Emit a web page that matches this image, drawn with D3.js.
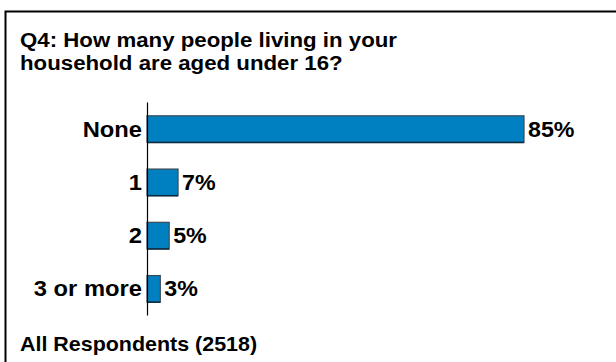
<!DOCTYPE html>
<html lang="en">
<head>
<meta charset="UTF-8" />
<title>Q4 household under 16</title>
<script src="https://d3js.org/d3.v7.min.js"></script>
<style>
  body { margin: 0; background: #fff; }
  text { font-family: Arial, "Liberation Sans", sans-serif; font-weight: bold; fill: #000; }
</style>
</head>
<body>
<div id="chart"></div>
<script>
// data
var categories = ["None", "1", "2", "3 or more"];
var values = [85, 7, 5, 3];
var valueLabels = ["85%", "7%", "5%", "3%"];
var titleLines = ["Q4: How many people living in your", "household are aged under 16?"];
var footer = "All Respondents (2518)";

var width = 616, height = 362;
var stretch = 1.08; // text in the picture looks a bit wide

var svg = d3.select("#chart").append("svg")
  .attr("width", width)
  .attr("height", height);

// frame (runs off the right and bottom edge)
svg.append("rect")
  .attr("x", 5.5).attr("y", 11.5)
  .attr("width", 700).attr("height", 400)
  .attr("fill", "none")
  .attr("stroke", "#000")
  .attr("stroke-width", 2);

// title
svg.selectAll(".title")
  .data(titleLines)
  .enter().append("text")
  .attr("class", "title")
  .attr("transform", function(d, i) { return "translate(20," + (46.5 + i * 23.5) + ") scale(1.06,1)"; })
  .style("font-size", "21px")
  .text(function(d) { return d; });

var x = d3.scaleLinear().domain([0, 85]).range([147, 524]);
var y = d3.scaleBand().domain(categories).range([102, 315])
  .paddingInner(0.5).paddingOuter(0.25);

var g = svg.append("g");

g.selectAll(".bar")
  .data(values)
  .enter().append("rect")
  .attr("class", "bar")
  .attr("x", x(0))
  .attr("y", function(d, i) { return y(categories[i]) + 0.5; })
  .attr("width", function(d) { return x(d) - x(0); })
  .attr("height", y.bandwidth())
  .attr("fill", "#0080c0")
  .attr("stroke", "#3c4a55")
  .attr("stroke-width", 1.2);

// darker bottom edge
g.selectAll(".shade")
  .data(values)
  .enter().append("line")
  .attr("x1", x(0))
  .attr("x2", function(d) { return x(d); })
  .attr("y1", function(d, i) { return y(categories[i]) + y.bandwidth() + 0.5; })
  .attr("y2", function(d, i) { return y(categories[i]) + y.bandwidth() + 0.5; })
  .attr("stroke", "#0a2a40")
  .attr("stroke-width", 1.5);

// axis line
var axis = d3.axisLeft(y).tickSize(0).tickPadding(6).tickFormat("");
svg.append("g")
  .attr("transform", "translate(" + x(0) + ",0)")
  .call(axis)
  .select(".domain")
  .attr("stroke", "#000")
  .attr("stroke-width", 1.2);

// category labels
svg.selectAll(".cat")
  .data(categories)
  .enter().append("text")
  .attr("class", "cat")
  .attr("text-anchor", "end")
  .attr("transform", function(d) { return "translate(" + (x(0) - 5) + "," + (y(d) + y.bandwidth() / 2 + 8) + ") scale(" + stretch + ",1)"; })
  .style("font-size", "22px")
  .text(function(d) { return d; });

// value labels
svg.selectAll(".val")
  .data(values)
  .enter().append("text")
  .attr("class", "val")
  .attr("transform", function(d, i) { return "translate(" + (x(d) + 4) + "," + (y(categories[i]) + y.bandwidth() / 2 + 8) + ") scale(" + stretch + ",1)"; })
  .style("font-size", "21.5px")
  .text(function(d, i) { return valueLabels[i]; });

// footer
svg.append("text")
  .attr("transform", "translate(20,351) scale(1.1,1)")
  .style("font-size", "19.5px")
  .text(footer);
</script>
</body>
</html>
